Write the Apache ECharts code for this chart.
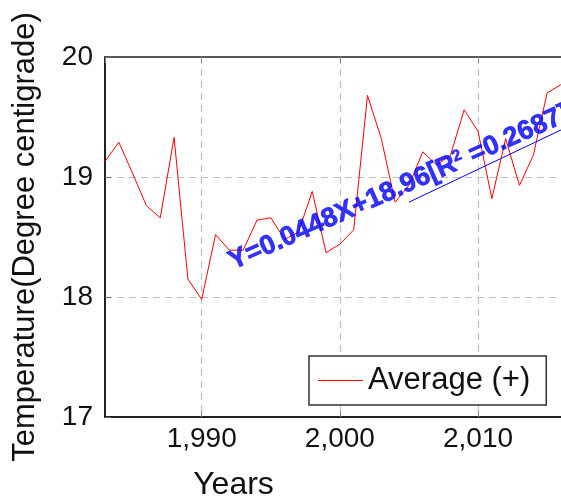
<!DOCTYPE html>
<html>
<head>
<meta charset="utf-8">
<script src="https://cdn.jsdelivr.net/npm/echarts@6/dist/echarts.min.js"></script>
<style>html,body{margin:0;padding:0;background:#fff}#c{width:561px;height:501px}</style>
</head>
<body>
<div id="c"></div>
<script>
const years = [1983,1984,1985,1986,1987,1988,1989,1990,1991,1992,1993,1994,1995,1996,1997,1998,1999,2000,2001,2002,2003,2004,2005,2006,2007,2008,2009,2010,2011,2012,2013,2014,2015,2016];
const averageTemp = [19.13,19.29,19.03,18.76,18.66,19.33,18.15,17.98,18.52,18.39,18.39,18.64,18.66,18.48,18.54,18.88,18.37,18.44,18.56,19.68,19.32,18.79,18.93,19.21,19.10,19.18,19.56,19.38,18.82,19.32,18.93,19.18,19.70,19.77];
const trendLine = [[2005, 18.79], [2016.15, 19.40]];
const trendLabelPos = [2004.3, 18.91];
const yTicks = [17, 18, 19, 20];
const seriesName = 'Average (+)';
const xTitle = 'Years';
const yTitle = 'Temperature(Degree centigrade)';

const FONT = '"Liberation Sans", Arial, Helvetica, sans-serif';
const chart = echarts.init(document.getElementById('c'), null, {renderer: 'canvas'});
const dashed = {show: true, showMinLine: false, showMaxLine: false, lineStyle: {color: '#c0c0c0', type: [7, 5], width: 1.2}};
chart.setOption({
  animation: false,
  backgroundColor: '#fff',
  grid: {left: 105, top: 57, width: 458, height: 360, containLabel: false, outerBoundsMode: 'none',
    show: true, borderColor: '#222', borderWidth: 1.5, backgroundColor: 'transparent'},
  legend: {
    data: [{name: seriesName, icon: 'rect'}], left: 309, top: 356, orient: 'vertical',
    backgroundColor: '#fff', borderColor: '#333', borderWidth: 1.5, borderRadius: 0,
    padding: [9, 16, 9, 9], itemWidth: 45, itemHeight: 1.2,
    itemStyle: {color: '#ff0000'},
    textStyle: {fontFamily: FONT, fontSize: 31, color: '#111'}
  },
  xAxis: [{
    type: 'value', min: 1983, max: 2016.15, splitNumber: 3,
    name: xTitle, nameLocation: 'middle', nameGap: 52,
    nameTextStyle: {fontFamily: FONT, fontSize: 32, color: '#111', padding: [0, 201, 0, 0]},
    axisLine: {show: true, lineStyle: {color: '#111', width: 1.5}},
    axisTick: {show: true, inside: true, length: 6, lineStyle: {color: '#888'}},
    axisLabel: {fontFamily: FONT, fontSize: 28, color: '#111', margin: 8, showMinLabel: false, showMaxLabel: false},
    splitLine: dashed
  }, {
    type: 'value', min: 1983, max: 2016.15, splitNumber: 3, position: 'top',
    axisLine: {show: false},
    axisTick: {show: true, inside: true, length: 6, lineStyle: {color: '#888'}},
    axisLabel: {show: false}, splitLine: {show: false}
  }],
  yAxis: {
    type: 'value', min: yTicks[0], max: yTicks[yTicks.length - 1], interval: 1,
    name: yTitle, nameLocation: 'middle', nameGap: 64,
    nameTextStyle: {fontFamily: FONT, fontSize: 31, color: '#111'},
    axisLine: {show: true, lineStyle: {color: '#111', width: 1.5}},
    axisTick: {show: true, inside: true, length: 6, lineStyle: {color: '#666'}},
    axisLabel: {fontFamily: FONT, fontSize: 28, color: '#111', margin: 12},
    splitLine: dashed
  },
  series: [{
    name: seriesName, type: 'line', xAxisIndex: 0,
    data: years.map((y, i) => [y, averageTemp[i]]),
    symbol: 'none', lineStyle: {color: '#ff0000', width: 1}, itemStyle: {color: '#ff0000'},
    clip: true, z: 3
  }, {
    name: 'trend', type: 'line', xAxisIndex: 0, data: trendLine,
    symbol: 'none', lineStyle: {color: '#0000ff', width: 1}, clip: true, z: 3
  }, {
    name: 'trendLabel', type: 'scatter', xAxisIndex: 0, data: [trendLabelPos],
    symbolSize: 0, silent: true, z: 5,
    label: {
      show: true, position: 'inside', rotate: 24,
      formatter: '{a|Y=0.0448X+18.96[R}{s|2}{a| =0.2687]}',
      rich: {
        a: {fontFamily: FONT, fontSize: 27, fontWeight: 'bold', color: '#0000ff', textBorderColor: '#0000ff', textBorderWidth: 0.7},
        s: {fontFamily: FONT, fontSize: 16, fontWeight: 'bold', color: '#0000ff', verticalAlign: 'top', textBorderColor: '#0000ff', textBorderWidth: 0.5}
      }
    }
  }]
});
</script>
</body>
</html>
